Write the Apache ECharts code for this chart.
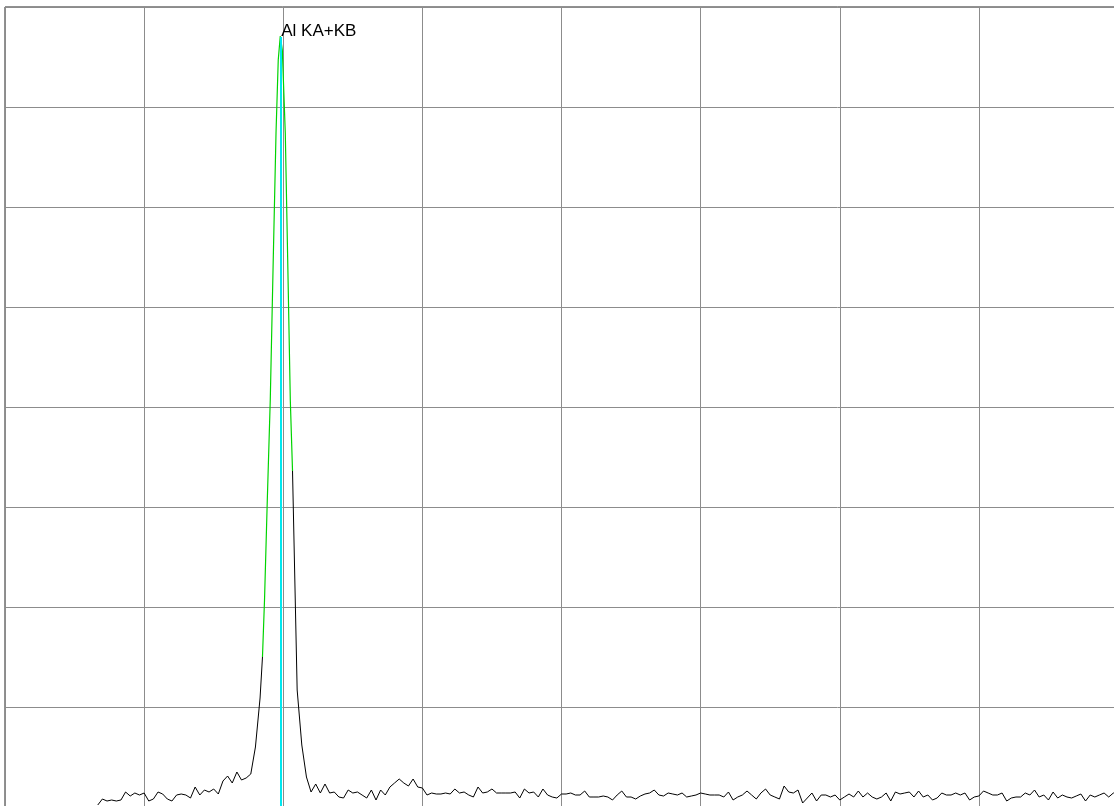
<!DOCTYPE html>
<html>
<head>
<meta charset="utf-8">
<script src="https://cdn.jsdelivr.net/npm/echarts@6/dist/echarts.min.js"></script>
<style>
html,body{margin:0;padding:0;background:#fff;}
#chart{width:1114px;height:806px;}
</style>
</head>
<body>
<div id="chart"></div>
<script>
// Spectrum: channel counts, starting at 0.5 keV, 0.025 keV per channel
const startEnergy = 0.5;
const channelWidth = 0.025;
const counts = [
  2, 8, 6, 7, 6, 7, 15, 11, 14, 12,
  14, 6, 8, 15, 13, 8, 6, 12, 13, 12,
  9, 20, 12, 17, 15, 18, 13, 26, 31, 24,
  35, 27, 29, 33, 60, 109, 214, 376, 581, 751,
  731, 537, 336, 117, 62, 30, 15, 23, 14, 23,
  14, 15, 10, 9, 17, 14, 15, 12, 9, 17,
  7, 17, 12, 20, 24, 28, 24, 21, 28, 20,
  19, 12, 14, 13, 13, 14, 13, 18, 14, 15,
  12, 10, 20, 14, 15, 18, 14, 14, 14, 14,
  15, 9, 18, 14, 15, 10, 18, 12, 10, 9,
  13, 13, 14, 12, 12, 16, 10, 10, 10, 11,
  10, 7, 12, 16, 10, 10, 8, 11, 13, 14,
  17, 12, 11, 14, 13, 12, 14, 10, 11, 12,
  14, 13, 12, 12, 12, 10, 15, 7, 10, 12,
  16, 12, 8, 14, 18, 12, 10, 8, 21, 15,
  14, 17, 4, 9, 14, 6, 12, 12, 10, 12,
  7, 10, 13, 10, 16, 10, 14, 10, 8, 10,
  14, 6, 15, 13, 14, 15, 10, 16, 10, 12,
  7, 9, 14, 12, 12, 14, 12, 14, 7, 10,
  11, 16, 14, 12, 12, 14, 6, 9, 10, 10,
  14, 12, 17, 10, 12, 7, 15, 9, 12, 10,
  9, 11, 13, 6, 12, 10, 12, 14, 10, 14,
  12
];

// Peak region (green); drawn in place of the black trace
const fitEnergy = [1.388, 1.399, 1.414, 1.430, 1.446, 1.461, 1.473, 1.484, 1.495, 1.511, 1.524, 1.538, 1.550];
const fitCounts = [150, 207, 307, 407, 547, 674, 747, 771, 757, 674, 547, 407, 336];

// Line marker
const peakName = 'Al KA+KB';
const peakEnergy = 1.4866;
const peakHeight = 770;

// Axis settings
const xMin = 0, xMax = 6, xStep = 0.75;
const yMin = 0, yMax = 800, yStep = 100;

const roiStart = fitEnergy[0];
const roiEnd = fitEnergy[fitEnergy.length - 1];
const channels = counts.map((c, i) => [+(startEnergy + i * channelWidth).toFixed(4), c]);
const spectrumData = [];
channels.forEach(p => { if (p[0] < roiStart) spectrumData.push(p); });
spectrumData.push([roiStart, fitCounts[0]]);
spectrumData.push(null);
channels.forEach(p => { if (p[0] >= roiEnd - 1e-9) spectrumData.push(p); });
const fitData = fitEnergy.map((e, i) => [e, fitCounts[i]]);

const chart = echarts.init(document.getElementById('chart'), null, {renderer: 'canvas'});
chart.setOption({
  animation: false,
  backgroundColor: '#ffffff',
  grid: {
    left: 5, top: 7, width: 1113, height: 800,
    outerBoundsMode: 'none', containLabel: false,
    show: true, borderColor: '#222', borderWidth: 1, backgroundColor: 'transparent'
  },
  xAxis: {
    type: 'value', min: xMin, max: xMax, interval: xStep,
    axisLine: {show: false}, axisTick: {show: false}, axisLabel: {show: false},
    splitLine: {show: true, lineStyle: {color: '#8c8c8c', width: 1}}
  },
  yAxis: {
    type: 'value', min: yMin, max: yMax, interval: yStep,
    axisLine: {show: false}, axisTick: {show: false}, axisLabel: {show: false},
    splitLine: {show: true, lineStyle: {color: '#8c8c8c', width: 1}}
  },
  series: [
    {
      name: 'spectrum', type: 'line', data: spectrumData,
      showSymbol: false, symbol: 'none', connectNulls: false,
      lineStyle: {color: '#000', width: 1}, z: 3
    },
    {
      name: 'fit', type: 'line', data: fitData,
      showSymbol: false, symbol: 'none',
      lineStyle: {color: '#00d400', width: 1.2}, z: 4
    },
    {
      name: 'marker', type: 'line', data: [],
      z: 5,
      markLine: {
        silent: true, symbol: 'none', animation: false,
        label: {show: false},
        lineStyle: {color: '#00e8f0', width: 2, type: 'solid'},
        data: [[{coord: [peakEnergy, 0]}, {coord: [peakEnergy, peakHeight]}]]
      },
      markPoint: {
        silent: true, animation: false,
        symbol: 'circle', symbolSize: 1,
        itemStyle: {color: 'rgba(0,0,0,0)'},
        label: {
          show: true, position: 'right', distance: 0, offset: [0, -6],
          formatter: peakName, color: '#000',
          fontFamily: 'Liberation Sans, Arial, sans-serif', fontSize: 17
        },
        data: [{coord: [peakEnergy, peakHeight]}]
      }
    }
  ]
});
</script>
</body>
</html>
